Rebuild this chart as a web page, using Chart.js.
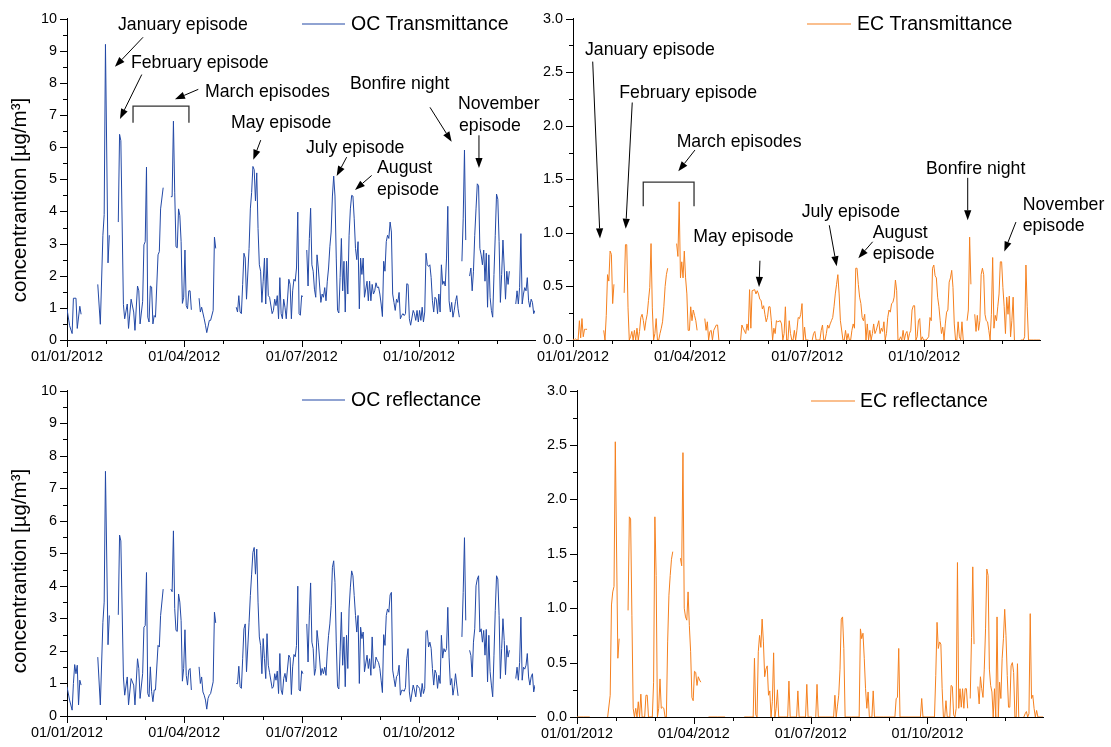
<!DOCTYPE html>
<html><head><meta charset="utf-8">
<script src="https://cdn.jsdelivr.net/npm/chart.js@4.4.1/dist/chart.umd.min.js"></script>
<style>
html,body{margin:0;padding:0;background:#fff;}
#wrap{position:relative;width:1111px;height:747px;overflow:hidden;background:#fff;}
canvas{position:absolute;}
</style></head><body><div id="wrap">
<canvas id="cTL" width="560" height="372" style="left:0px;top:0px"></canvas>
<canvas id="cTR" width="591" height="372" style="left:520px;top:0px"></canvas>
<canvas id="cBL" width="560" height="375" style="left:0px;top:372px"></canvas>
<canvas id="cBR" width="591" height="375" style="left:520px;top:372px"></canvas>
</div>
<script>
// ---------- DATA (day of year 2012, value in µg/m3; null = missing days) ----------
const dayTicks = [0, 30.5, 61, 91.5, 122, 152.5, 183, 213.5, 244, 274.5, 305, 335.5];
const dateLabels = ['01/01/2012', '01/04/2012', '01/07/2012', '01/10/2012'];
const ocTickValues = [0,0.5,1,1.5,2,2.5,3,3.5,4,4.5,5,5.5,6,6.5,7,7.5,8,8.5,9,9.5,10];
const ecTickValues = [0,0.25,0.5,0.75,1,1.25,1.5,1.75,2,2.25,2.5,2.75,3];

const ocTransmittance = [
[0,0.97],[2,0.45],[4,0.2],[5,1.3],[7,1.3],[8,0.36],[10,1.05],[11,0.8],null,
[24,1.73],[26,0.49],[28,3.26],[29,3.9],[30,9.2],[32,2.4],[33,3.26],null,
[40,3.67],[41,6.4],[42,6.2],[44,1.1],[45,0.66],[47,1.12],[48,0.36],[50,1.27],[52,0.87],[53,0.3],[55,1.68],[56,1.53],[57,0.5],[59,1.2],[60,2.96],[61,3.06],[62,5.38],[63,0.71],[64,0.56],[65,1.68],[66,1.65],[67,0.5],[68,0.76],[69,0.71],[71,2.65],[72,2.75],[73,4.08],[75,4.74],null,
[81,4.46],[82,4.46],[83,6.81],[84,4.6],[85,2.9],[86,2.87],[87,4.08],[88,3.87],[89,3.06],[90,1.14],[91,1.33],[92,2.8],[93,1.07],[94,0.97],[95,1.53],[96,1.53],[97,0.94],null,
[103,1.3],[104,0.87],[105,1.02],[107,0.66],[108,0.46],[109,0.23],[111,0.61],[112,0.61],[114,0.92],[115,3.2],[116,2.85],null,
[132,1.02],[133,0.87],[134,1.38],[135,0.87],[136,0.82],[137,1.73],[138,2.7],[139,2.55],[140,1.27],[142,2.85],[143,4.08],[144,4.59],[145,5.4],[146,5.3],[147,4.33],[148,5.2],[149,3.47],[150,2.34],[151,2.14],[152,1.17],[153,1.83],[154,2.55],[155,1.12],[156,2.55],[157,1.38],[158,1.33],[160,0.82],[161,0.92],[162,1.27],[163,1.07],[164,1.38],[165,0.66],[166,1.94],[167,0.82],[168,0.66],[169,1.27],[170,1.02],[171,0.66],[173,1.89],[174,1.73],[175,0.66],[176,1.53],[177,1.89],[178,1.83],[179,2.24],[180,3.98],[181,0.82],[182,0.77],[183,1.38],[184,1.35],null,
[187,2.8],[188,1.68],[189,3.16],[190,4.1],[191,2.34],[192,2.14],[193,1.58],[194,1.33],[195,2.65],[196,2.24],[198,1.17],[199,1.43],[200,1.33],[201,1.63],[202,1.22],[203,1.83],[204,2.24],[205,2.9],[206,3.36],[207,4.48],[208,5.1],[209,4.48],[210,2.55],[211,0.92],[212,0.84],[213,1.94],[214,3.16],[215,1.53],[216,2.45],[217,0.87],[218,2.45],[219,1.43],[220,3.26],[221,4.08],[222,4.5],[223,4.48],[224,3.77],[225,2.85],[226,2.5],[227,3.06],[228,0.97],[229,2.55],[230,2.04],[231,2.55],[232,1.33],[234,1.83],[235,1.22],[236,1.83],[237,1.22],[238,1.73],[239,1.43],[240,1.53],[241,1.78],[242,1.63],[243,1.65],[244,1.43],[245,1.12],[246,0.73],[247,2.45],[248,2.14],[249,3.06],[250,3.26],[251,3.16],[252,3.67],[253,3.36],[254,1.43],[255,1.17],[256,0.92],[257,1.27],[258,1.17],[259,1.48],[260,0.66],[261,0.76],[262,0.82],[263,0.76],[264,0.82],[265,1.75],[266,1.73],[267,0.66],[268,0.46],[270,0.92],[271,0.82],[272,0.61],[273,0.92],[274,0.56],[275,0.92],[276,0.61],[277,1.02],[278,0.56],[279,0.87],[280,2.7],[281,2.34],[282,2.29],[283,2.34],[284,1.94],[285,1.22],[286,0.87],[287,1.33],[288,1.27],[289,0.82],[290,1.43],[291,0.87],[292,2.34],[293,1.73],[294,1.83],[295,1.68],[296,2.55],[297,4.16],[298,1.22],[299,0.87],[300,1.17],[301,0.71],[302,0.92],[303,1.2],[304,1.38],[305,0.97],[306,0.71],null,
[308,2.45],[309,3.77],[310,5.91],[311,3.11],null,
[314,1.99],[315,2.24],[316,1.53],[317,2.14],[318,3.26],[319,4.08],[320,4.86],[321,4.8],[322,2.85],[323,2.65],[324,2.34],[325,2.8],[326,1.83],[327,2.7],[328,1.02],[329,2.65],[330,1.33],[331,0.92],[332,0.71],[333,2.04],[334,3.26],[335,4.54],[336,4.38],[337,3.06],[338,1.17],[339,2.04],[340,3.11],[341,2.24],[342,1.27],[343,2.14],[344,1.73],[345,2.14],null,
[350,1.12],[351,1.53],[352,1.12],[353,1.63],[354,3.31],[355,1.12],[356,1.43],[357,1.63],[358,1.53],[359,1.94],[360,1.22],[361,1.02],[362,1.27],[363,1.17],[364,0.82],[365,0.92]
];

const ecTransmittance = [
[0,0.01],[1,0],[2,0.01],[3,0],[4,0],[5,0.18],[6,0.02],[7,0.2],[8,0.03],[9,0.1],[10,0.1],[11,0.1],null,
[24,0.09],[25,0],[26,0.23],[27,0.61],[28,0.55],[29,0.83],[30,0.8],[31,0.34],[32,0.52],null,
[40,0.44],[41,0.89],[42,0.89],[43,0.3],[44,0],[45,0.03],[46,0.08],[47,0],[48,0.09],[49,0],[50,0.11],[51,0],[52,0.08],[53,0.21],[54,0.24],[55,0.18],[56,0.09],[57,0.18],[58,0.24],[59,0.37],[60,0.49],[61,0.9],[62,0.3],[63,0],[64,0.06],[65,0.2],[66,0],[67,0],[68,0.06],[69,0.11],[70,0.17],[71,0.31],[72,0.5],[73,0.61],[74,0.67],null,
[81,0.9],[82,0.78],[83,1.29],[84,0.58],[85,0.73],[86,0.58],[87,0.83],[88,0.58],[89,0.43],[90,0.09],[91,0.09],[92,0.31],[93,0.18],[94,0.28],[95,0.23],[96,0.18],[97,0.09],null,
[103,0.2],[104,0.09],[105,0.17],[106,0],[107,0.08],[108,0.09],[109,0],[110,0.09],[112,0.14],[113,0.14],[114,0],null,
[131,0],[132,0.14],[133,0.11],[135,0.06],[136,0.15],[137,0.09],[138,0.47],[139,0.11],[140,0.46],[142,0.47],[143,0.43],[144,0.46],[145,0.43],[146,0.38],[147,0.37],[148,0.29],[149,0.32],[150,0.24],[151,0.17],[152,0.21],[153,0.31],[154,0.31],[155,0.18],[156,0],[157,0.11],[158,0.06],[159,0.18],[160,0.17],[162,0.18],[163,0.15],[164,0],[165,0.06],[166,0.31],[167,0],[168,0],[169,0.18],[170,0.06],[171,0],[172,0],[173,0.09],[174,0],[175,0.09],[176,0.21],[177,0.2],[178,0.24],[179,0.34],[180,0],[181,0.12],[182,0],[184,0],null,
[187,0],[188,0.06],[189,0.08],[190,0],[191,0],[192,0],[193,0],[194,0.09],[195,0.14],[196,0],[197,0],[198,0.06],[199,0.14],[200,0.11],[201,0.15],[202,0.18],[203,0.21],[204,0.31],[205,0.43],[206,0.52],[207,0.61],[208,0.43],[209,0.18],[211,0],[212,0],[213,0.09],[214,0],[215,0.06],[216,0],[217,0],[218,0.09],[219,0.15],[220,0.11],[221,0.67],[222,0.67],[223,0.52],[224,0.4],[225,0.34],[226,0.21],[227,0.18],[228,0.24],[229,0],[230,0.15],[231,0],[232,0.09],[233,0],[234,0.06],[235,0.15],[236,0.06],[237,0.09],[239,0.18],[240,0.06],[241,0.11],[242,0.08],[243,0.17],[244,0],[245,0.06],[246,0.21],[247,0.28],[248,0.26],[249,0.34],[250,0.35],[251,0.4],[252,0.56],[253,0.46],[254,0],[255,0],[256,0.03],[257,0],[258,0.09],[259,0],[260,0.06],[261,0.08],[262,0],[263,0.06],[264,0.09],[265,0.28],[266,0.32],[267,0.32],[268,0],[269,0.03],[270,0.18],[271,0.2],[272,0],[273,0.03],[274,0],[275,0],[276,0],[278,0.03],[279,0.21],[280,0.18],[281,0.67],[282,0.7],[283,0.6],[284,0.58],[285,0.4],[286,0.31],[287,0.18],[288,0.06],[289,0.12],[290,0],[291,0.15],[292,0.26],[293,0.28],[294,0.54],[295,0.58],[296,0.65],[297,0.49],[298,0.15],[299,0],[300,0],[301,0.17],[302,0.03],[303,0],[304,0.17],[305,0],null,
[308,0.18],[309,0.28],[310,0.96],[311,0.52],null,
[314,0.24],[315,0.08],[316,0.23],[317,0.09],[318,0.18],[319,0.61],[320,0.67],[321,0.61],[322,0.24],[323,0.18],[324,0.17],[325,0.09],[326,0],[327,0.24],[328,0.77],[329,0.11],[330,0.23],[331,0.18],[332,0.31],[333,0.43],[334,0.73],[335,0.73],[336,0.49],[337,0.31],[338,0.06],[339,0.4],[340,0.24],[341,0.41],[342,0.03],[343,0.18],[344,0.4],[345,0],null,
[350,0],[351,0],[352,0],[353,0.03],[354,0.7],[355,0.31],[356,0],[358,0],[360,0],[362,0],[365,0]
];

const ocReflectance = [
[0,0.9],[2,0.49],[4,0.18],[5,1.0],[6,1.58],[7,1.3],[8,1.56],[9,0.34],[10,1.1],[11,0.95],null,
[24,1.81],[26,0.34],[28,2.88],[29,3.5],[30,7.52],[32,2.19],[33,3.09],null,
[40,3.11],[41,5.56],[42,5.38],[44,1.2],[45,0.64],[47,1.2],[48,0.34],[50,1.15],[52,0.95],[53,0.34],[55,1.76],[56,1.46],[57,0.54],[59,1.3],[60,2.73],[61,2.78],[62,4.41],[63,0.69],[64,0.59],[65,1.51],[66,0.75],[67,0.44],[68,0.8],[69,0.8],[71,2.17],[72,2.12],[73,3.09],[75,3.9],null,
[81,3.9],[82,3.82],[83,5.69],[84,3.3],[85,2.63],[86,2.6],[87,3.75],[88,3.5],[89,2.93],[90,1.07],[91,1.46],[92,2.65],[93,1.25],[94,0.95],[95,1.41],[96,1.46],[97,0.8],null,
[103,1.51],[104,1.0],[105,1.2],[106,0.74],[107,0.64],[108,0.49],[109,0.21],[110,0.54],[111,0.64],[112,0.69],[114,1.05],[115,3.19],[116,2.86],null,
[132,1.0],[133,0.99],[134,1.53],[135,0.9],[136,0.85],[137,1.76],[138,2.68],[139,2.83],[140,1.36],[142,2.88],[143,3.7],[144,4.36],[145,5.03],[146,5.18],[147,4.36],[148,5.13],[149,3.5],[150,2.43],[151,2.17],[152,1.3],[153,2.38],[154,1.76],[155,1.15],[156,2.53],[157,1.56],[158,1.33],[160,0.85],[161,0.9],[162,1.3],[163,1.1],[164,1.38],[165,0.69],[166,1.92],[167,0.8],[168,0.66],[169,1.15],[170,1.31],[171,1.05],[173,1.87],[174,1.79],[175,0.66],[176,1.51],[177,1.89],[178,1.82],[179,2.17],[180,3.99],[181,0.8],[182,0.77],[183,1.39],[184,1.3],null,
[187,2.83],[188,1.66],[189,3.1],[190,4.09],[191,2.27],[192,2.07],[193,1.25],[194,1.46],[195,2.63],[196,2.27],[198,1.25],[199,1.46],[200,1.3],[201,1.5],[202,1.25],[203,1.97],[204,2.48],[205,2.83],[206,3.39],[207,4.57],[208,4.77],[209,4.11],[210,2.27],[211,0.9],[212,0.83],[213,1.97],[214,3.19],[215,1.56],[216,2.43],[217,0.9],[218,2.48],[219,1.46],[220,3.29],[221,3.96],[222,4.46],[223,4.31],[224,3.7],[225,3.09],[226,2.58],[227,3.09],[228,1.0],[229,2.73],[230,2.38],[231,2.58],[232,1.36],[234,1.87],[235,1.46],[236,1.76],[237,1.25],[238,2.43],[239,1.46],[240,1.48],[241,1.81],[242,1.71],[243,1.64],[244,1.46],[245,1.1],[246,0.72],[247,2.5],[248,2.17],[249,3.09],[250,3.29],[251,3.19],[252,3.72],[253,3.8],[254,1.41],[255,1.15],[256,0.9],[257,1.21],[258,1.27],[259,1.56],[260,0.64],[261,0.79],[262,0.79],[263,0.76],[264,0.87],[265,1.76],[266,2.07],[267,0.74],[268,0.44],[270,0.95],[271,0.8],[272,0.59],[273,0.95],[274,0.9],[275,0.85],[276,0.59],[277,1.0],[278,0.69],[279,0.85],[280,2.6],[281,2.63],[282,2.12],[283,2.27],[284,2.08],[285,1.46],[286,0.95],[287,1.41],[288,1.31],[289,0.85],[290,1.25],[291,1.0],[292,2.48],[293,1.78],[294,2.07],[295,1.97],[296,2.07],[297,3.34],[298,1.81],[299,0.95],[300,1.15],[301,0.64],[302,0.9],[303,1.3],[304,0.95],[305,0.62],null,
[308,2.43],[309,3.8],[310,5.48],[311,2.94],null,
[314,2.02],[315,1.86],[316,1.2],[317,2.27],[318,2.68],[319,4.0],[320,4.21],[321,4.31],[322,2.58],[323,2.68],[324,2.27],[325,2.63],[326,1.87],[327,2.66],[328,1.05],[329,2.48],[330,1.36],[331,0.95],[332,0.59],[333,1.87],[334,3.24],[335,4.31],[336,4.21],[337,3.09],[338,1.15],[339,2.07],[340,2.99],[341,2.32],[342,1.27],[343,2.17],[344,1.81],[345,2.02],null,
[350,1.15],[351,1.5],[352,1.1],[353,1.64],[354,3.04],[355,1.1],[356,1.5],[357,1.44],[358,1.56],[359,1.92],[360,1.2],[361,0.95],[362,1.2],[363,1.3],[364,0.74],[365,0.95]
];

const ecReflectance = [
[0,0],[5,0],[10,0],null,
[24,0],[26,0.2],[27,1.03],[28,1.15],[29,1.2],[30,2.53],[32,0.54],[33,0.72],null,
[40,0.98],[41,1.84],[42,1.82],[43,0.93],[44,0.08],[45,0],[46,0.08],[47,0],[48,0.14],[49,0],[50,0.21],[51,0],[52,0],[53,0],[54,0.2],[55,0.2],[56,0],[57,0],[58,0],[59,0],[60,0.32],[61,1.84],[62,1.3],[63,0],[64,0.08],[65,0.35],[66,0.08],[67,0.09],[68,0.08],[69,0],[70,0],[71,0.69],[72,1.12],[73,1.3],[74,1.45],[75,1.52],null,
[81,1.46],[82,1.39],[83,2.43],[84,1.0],[85,0.92],[86,0.89],[87,1.15],[88,0.84],[89,0.6],[90,0.18],[91,0.15],[92,0.42],[93,0.41],[94,0.29],[95,0.37],[96,0.34],[97,0.32],null,
[103,0],[110,0],[116,0],null,
[131,0],[134,0],[137,0],[138,0],[139,0.54],[140,0.02],[141,0],[142,0.6],[143,0.75],[144,0.64],[145,0.9],[146,0.69],[147,0.37],[148,0.44],[149,0.47],[150,0.2],[151,0.24],[152,0],[153,0.14],[154,0.59],[155,0],[156,0.08],[157,0.25],[158,0],[162,0],[165,0],[166,0.33],[167,0],[172,0],[173,0.24],[174,0],[179,0],[180,0.3],[181,0],[184,0],null,
[187,0],[188,0.3],[189,0],[195,0],[201,0],[202,0.2],[203,0],[204,0.1],[205,0.2],[206,0.44],[207,0.9],[208,0.92],[209,0.63],[210,0],[215,0],[221,0],[222,0.81],[223,0.72],[224,0.77],[225,0.54],[226,0.26],[227,0.08],[228,0.23],[229,0],[231,0],[232,0.24],[233,0],[240,0],[249,0],[250,0.17],[251,0.18],[252,0.63],[253,0],[260,0],[269,0],[270,0.17],[271,0],[275,0],[280,0],[281,0.38],[282,0.87],[283,0.63],[284,0.69],[285,0.67],[286,0.26],[287,0],[288,0],[289,0.15],[290,0],[292,0],[293,0.29],[294,0.28],[295,0.02],[296,0],[297,0.08],[298,1.42],[299,0.08],[300,0.26],[301,0.09],[302,0.26],[303,0.08],[304,0.26],[305,0.26],[306,0.08],null,
[308,0.17],[309,0.73],[310,1.38],[311,0.67],null,
[314,0.28],[315,0.12],[316,0.37],[317,0.26],[318,0.18],[319,0.44],[320,0.81],[321,1.36],[322,1.3],[323,0.44],[324,0.29],[325,0.23],[326,0],[327,0.26],[328,0],[329,0.92],[330,0],[331,0.32],[332,0.17],[333,0.54],[334,0.72],[335,0.99],[336,0.75],[337,0.38],[338,0.09],[339,0.09],[340,0.47],[341,0.5],[342,0.41],[343,0],[344,0],[345,0.49],[346,0],null,
[350,0],[351,0.03],[352,0.05],[353,0],[354,0.03],[355,0.95],[356,0.17],[357,0.2],[358,0.08],[359,0],[360,0.06],[361,0],[365,0]
];

// ---------- annotations (data coordinates: day, value) ----------
const ocAnnotations = {
  texts: [
    ['January episode', 39.8, 9.79], ['February episode', 49.9, 8.62], ['March episodes', 107.6, 7.71],
    ['May episode', 127.9, 6.76], ['July episode', 186.4, 5.96], ['August', 241.8, 5.34], ['episode', 241.8, 4.66],
    ['Bonfire night', 220.7, 7.95], ['November', 304.9, 7.34], ['episode', 305.7, 6.67]
  ],
  arrows: [
    [59.3, 9.42, 37.4, 8.50], [58.3, 8.26, 41.3, 6.88], [102.4, 7.80, 84.2, 7.49], [151.1, 6.22, 145.3, 5.61],
    [218.1, 5.69, 210.3, 5.10], [237.6, 5.12, 224.6, 4.67], [283.1, 7.24, 300.0, 6.17], [321.3, 6.37, 321.3, 5.35]
  ],
  bracket: [51.5, 95.1, 7.28, 6.76]
};
const ecAnnotations = {
  texts: [
    ['January episode', 9.4, 2.706], ['February episode', 36.2, 2.309], ['March episodes', 81.0, 1.850],
    ['May episode', 94.0, 0.963], ['July episode', 178.7, 1.193], ['August', 234.2, 0.994], ['episode', 234.2, 0.805],
    ['Bonfire night', 275.9, 1.599], ['November', 351.5, 1.260], ['episode', 351.5, 1.064]
  ],
  arrows: [
    [15.4, 2.599, 21.1, 0.948], [46.3, 2.217, 41.2, 1.039], [95.3, 1.773, 82.3, 1.575], [146.1, 0.740, 145.4, 0.495],
    [200.3, 1.071, 206.1, 0.688], [234.2, 0.917, 223.0, 0.764], [308.5, 1.514, 308.5, 1.117], [346.2, 1.101, 337.1, 0.826]
  ],
  bracket: [54.9, 94.6, 1.474, 1.248]
};

// ---------- rendering ----------
const FONT = '"Liberation Sans", Arial, Helvetica, sans-serif';
const BLUE = '#2349a6';
const ORANGE = '#f5801f';

function toPoints(arr) {
  const out = [];
  let last = 0;
  arr.forEach(p => {
    if (p === null) { out.push({x: last + 0.5, y: null}); }
    else { out.push({x: p[0], y: p[1]}); last = p[0]; }
  });
  return out;
}

function decor(opt) {
  return {
    id: 'decor',
    afterDraw(chart) {
      const ctx = chart.ctx, xs = chart.scales.x, ys = chart.scales.y;
      const X = v => xs.getPixelForValue(v), Y = v => ys.getPixelForValue(v);
      const ca = chart.chartArea;
      ctx.save();
      // ticks
      ctx.strokeStyle = '#000'; ctx.lineWidth = 1;
      ctx.beginPath();
      dayTicks.forEach((d, i) => {
        const px = Math.round(X(d)) + 0.5, len = (i % 3 === 0) ? 7 : 4;
        ctx.moveTo(px, ca.bottom); ctx.lineTo(px, ca.bottom + len);
      });
      opt.yTicks.forEach(v => {
        const py = Math.round(Y(v)) + 0.5, len = opt.isMajor(v) ? 7 : 4;
        ctx.moveTo(ca.left - len, py); ctx.lineTo(ca.left, py);
      });
      ctx.stroke();
      // legend
      const lg = opt.legend;
      ctx.strokeStyle = opt.color; ctx.lineWidth = 1.2;
      ctx.beginPath(); ctx.moveTo(lg.x1, lg.y); ctx.lineTo(lg.x2, lg.y); ctx.stroke();
      ctx.fillStyle = '#000'; ctx.font = '19.5px ' + FONT;
      ctx.textAlign = 'left'; ctx.textBaseline = 'middle';
      ctx.fillText(chart.data.datasets[0].label, lg.tx, lg.y + 1);
      // y title
      if (opt.yTitle) {
        ctx.save();
        ctx.translate(opt.yTitle.x, opt.yTitle.y);
        ctx.rotate(-Math.PI / 2);
        ctx.font = '20.5px ' + FONT; ctx.textAlign = 'center'; ctx.textBaseline = 'middle';
        ctx.fillText('concentrantion [µg/m³]', 0, 0);
        ctx.restore();
      }
      // annotations
      const an = opt.annotations;
      if (an) {
        ctx.fillStyle = '#000'; ctx.font = '17.7px ' + FONT;
        ctx.textAlign = 'left'; ctx.textBaseline = 'middle';
        an.texts.forEach(t => ctx.fillText(t[0], X(t[1]), Y(t[2])));
        ctx.strokeStyle = '#000'; ctx.lineWidth = 1;
        an.arrows.forEach(a => {
          const x1 = X(a[0]), y1 = Y(a[1]), x2 = X(a[2]), y2 = Y(a[3]);
          const ang = Math.atan2(y2 - y1, x2 - x1), L = 10, w = 3.6;
          const bx = x2 - L * Math.cos(ang), by = y2 - L * Math.sin(ang);
          ctx.beginPath(); ctx.moveTo(x1, y1); ctx.lineTo(bx, by); ctx.stroke();
          ctx.beginPath();
          ctx.moveTo(x2, y2);
          ctx.lineTo(bx + w * Math.sin(ang), by - w * Math.cos(ang));
          ctx.lineTo(bx - w * Math.sin(ang), by + w * Math.cos(ang));
          ctx.closePath(); ctx.fill();
        });
        const b = an.bracket;
        ctx.strokeStyle = '#333'; ctx.lineWidth = 1.3;
        ctx.beginPath();
        ctx.moveTo(X(b[0]), Y(b[3])); ctx.lineTo(X(b[0]), Y(b[2]));
        ctx.lineTo(X(b[1]), Y(b[2])); ctx.lineTo(X(b[1]), Y(b[3]));
        ctx.stroke();
      }
      ctx.restore();
    }
  };
}

function buildPanel(opt) {
  const canvas = document.getElementById(opt.canvas);
  const W = canvas.width, H = canvas.height, A = opt.area;
  new Chart(canvas, {
    type: 'line',
    data: { datasets: [{
      label: opt.label, data: toPoints(opt.series), borderColor: opt.color, borderWidth: 1,
      pointRadius: 0, tension: 0, fill: false, spanGaps: false
    }]},
    options: {
      responsive: false, animation: false, events: [],
      layout: { padding: { left: 0, top: A.top, right: W - A.right, bottom: 0 } },
      plugins: { legend: { display: false }, tooltip: { enabled: false }, title: { display: false } },
      scales: {
        x: {
          type: 'linear', min: 0, max: 365,
          afterBuildTicks: s => { s.ticks = dayTicks.map(v => ({ value: v })); },
          afterFit: s => { s.height = H - A.bottom; },
          grid: { display: true, drawOnChartArea: false, drawTicks: false },
          border: { display: true, color: '#000', width: 1 },
          ticks: { autoSkip: false, maxRotation: 0, minRotation: 0, padding: 8, color: '#000',
                   font: { family: FONT, size: 14.4 },
                   callback: (v, i) => (i % 3 === 0 ? dateLabels[i / 3] : '') }
        },
        y: {
          type: 'linear', min: 0, max: opt.yMax,
          afterBuildTicks: s => { s.ticks = opt.yTicks.map(v => ({ value: v })); },
          afterFit: s => { s.width = A.left; },
          grid: { display: true, drawOnChartArea: false, drawTicks: false },
          border: { display: true, color: '#000', width: 1 },
          ticks: { autoSkip: false, padding: 10, color: '#000', font: { family: FONT, size: 14.4 },
                   callback: v => (opt.isMajor(v) ? opt.fmt(v) : '') }
        }
      }
    },
    plugins: [decor(opt)]
  });
}

const isInt = v => Math.abs(v - Math.round(v)) < 1e-9;
const isHalf = v => Math.abs(v * 2 - Math.round(v * 2)) < 1e-9;

buildPanel({ canvas: 'cTL', label: 'OC Transmittance', series: ocTransmittance, color: BLUE,
  area: { left: 67, top: 13, right: 535, bottom: 340 }, yMax: 10, yTicks: ocTickValues, isMajor: isInt, fmt: v => String(v),
  legend: { x1: 302, x2: 345, y: 24, tx: 351 }, yTitle: { x: 20, y: 200 }, annotations: ocAnnotations });
buildPanel({ canvas: 'cTR', label: 'EC Transmittance', series: ecTransmittance, color: ORANGE,
  area: { left: 53, top: 13, right: 520, bottom: 340 }, yMax: 3, yTicks: ecTickValues, isMajor: isHalf, fmt: v => v.toFixed(1),
  legend: { x1: 287, x2: 331, y: 24, tx: 337 }, annotations: ecAnnotations });
buildPanel({ canvas: 'cBL', label: 'OC reflectance', series: ocReflectance, color: BLUE,
  area: { left: 67, top: 17, right: 535, bottom: 344 }, yMax: 10, yTicks: ocTickValues, isMajor: isInt, fmt: v => String(v),
  legend: { x1: 302, x2: 345, y: 28, tx: 351 }, yTitle: { x: 20, y: 199 } });
buildPanel({ canvas: 'cBR', label: 'EC reflectance', series: ecReflectance, color: ORANGE,
  area: { left: 57, top: 18, right: 523, bottom: 345 }, yMax: 3, yTicks: ecTickValues, isMajor: isHalf, fmt: v => v.toFixed(1),
  legend: { x1: 291, x2: 335, y: 29, tx: 340 } });
</script>
</body></html>
